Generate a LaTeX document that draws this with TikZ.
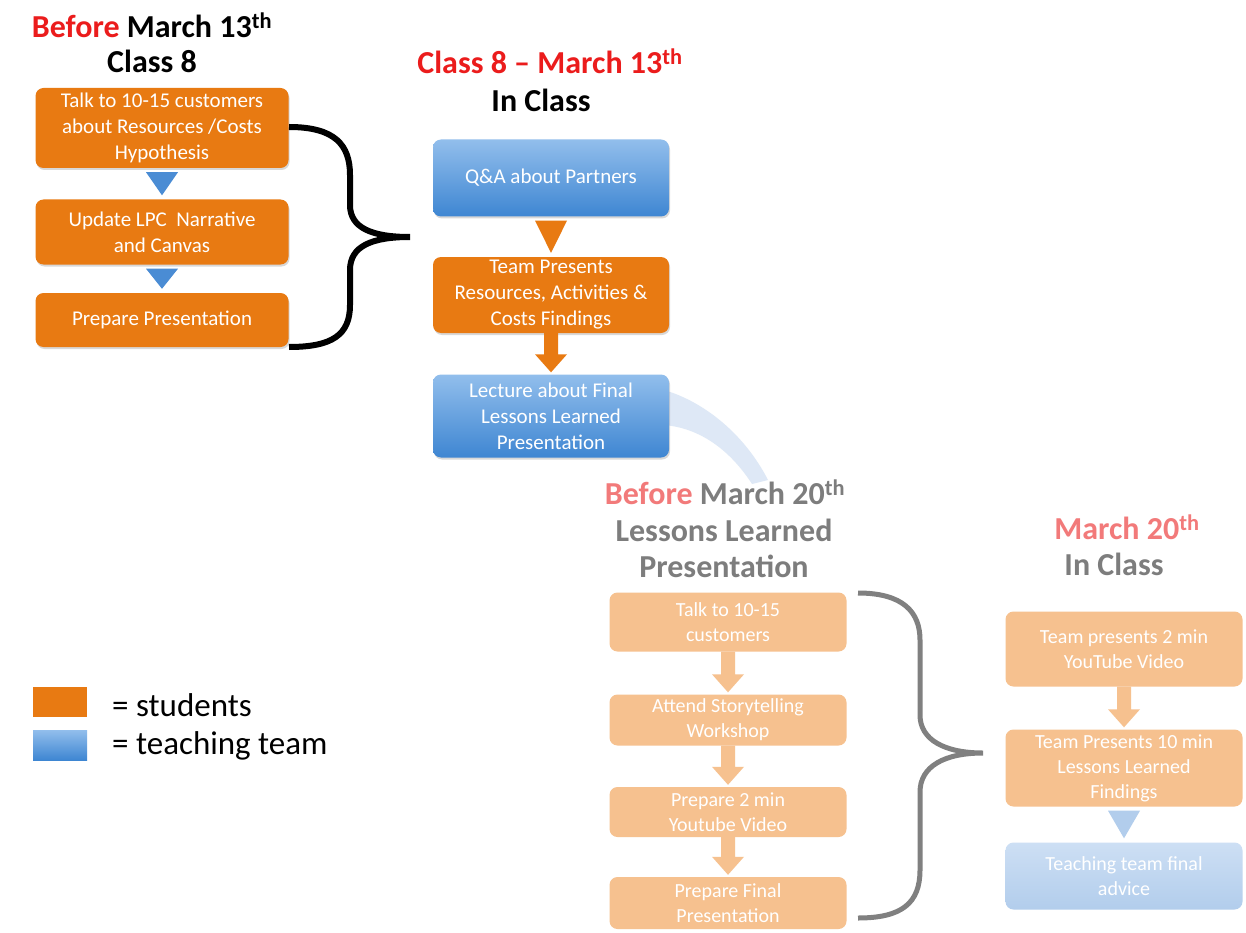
\documentclass[tikz,border=0pt]{standalone}
\usepackage{fontspec}
\setmainfont{Carlito}
\usetikzlibrary{calc,shadows}
\definecolor{org}{RGB}{232,122,18}
\definecolor{bluetop}{RGB}{146,190,236}
\definecolor{bluebot}{RGB}{62,134,210}
\definecolor{blutri}{RGB}{74,140,212}
\definecolor{forg}{RGB}{246,193,143}
\definecolor{fbluetop}{RGB}{205,223,244}
\definecolor{fbluebot}{RGB}{178,205,236}
\definecolor{hred}{RGB}{235,28,28}
\definecolor{pink}{RGB}{242,122,122}
\definecolor{fgray}{RGB}{125,125,125}
\definecolor{bgray}{RGB}{128,128,128}
\definecolor{swoosh}{RGB}{200,218,240}
\tikzset{
  box/.style={rounded corners=8pt, minimum width=#1, align=center,
    text=white, font=\fontsize{21}{26}\selectfont, inner sep=0pt},
  stud/.style={box=#1, fill=org, drop shadow={opacity=0.3,shadow xshift=1pt,shadow yshift=-2pt}},
  teach/.style={box=#1, top color=bluetop, bottom color=bluebot, drop shadow={opacity=0.3,shadow xshift=1pt,shadow yshift=-2pt}},
  fstud/.style={box=#1, fill=forg, font=\fontsize{20}{25}\selectfont},
  fteach/.style={box=#1, top color=fbluetop, bottom color=fbluebot, font=\fontsize{20}{25}\selectfont},
  head/.style={font=\fontsize{32}{36}\selectfont\bfseries, inner sep=0pt},
  legtext/.style={font=\fontsize{33}{36}\selectfont, anchor=west, inner sep=0pt},
}
\newcommand\tri[3]{\fill[#1] ($(#2.south)+(-16,4)$) -- ($(#2.south)+(16,4)$) -- ($(#3.north)+(0,-4)$) -- cycle;}
\newcommand\blockarr[3]{\fill[#1] ($(#2.south)+(-7,0)$) -- ($(#2.south)+(7,0)$) -- ($(#3.north)+(7,-20)$) -- ($(#3.north)+(16,-20)$) -- ($(#3.north)+(0,-2)$) -- ($(#3.north)+(-16,-20)$) -- ($(#3.north)+(-7,-20)$) -- cycle;}
\begin{document}
\begin{tikzpicture}[x=1pt,y=-1pt]
\useasboundingbox[fill=white] (0,0) rectangle (1246,933);

% faint swoosh
\fill[swoosh, opacity=0.6] (664,390) .. controls (705,402) and (745,435) .. (768,480) -- (752,484) .. controls (730,450) and (700,428) .. (664,425) -- cycle;

% headings
\node[head] (h1a) at (152,25) {\textcolor{hred}{Before} March 13\textsuperscript{th}};
\node[head] (h1b) at (152,61) {Class 8};
\node[head, text=hred] (h2a) at (550,61) {Class 8 -- March 13\textsuperscript{th}};
\node[head] (h2b) at (541,100) {In Class};
\node[head, text=fgray] (h3a) at (725,492) {\textcolor{pink}{Before} March 20\textsuperscript{th}};
\node[head, text=fgray] (h3b) at (724,530) {Lessons Learned};
\node[head, text=fgray] (h3c) at (724,566) {Presentation};
\node[head, text=pink] (h4a) at (1127,527) {March 20\textsuperscript{th}};
\node[head, text=fgray] (h4b) at (1114,564) {In Class};

% left column
\node[stud=253pt, minimum height=80pt] (L1) at (162,128) {Talk to 10-15 customers\\about Resources /Costs\\Hypothesis};
\node[stud=253pt, minimum height=65pt] (L2) at (162,232) {Update LPC\ \ Narrative\\and Canvas};
\node[stud=253pt, minimum height=54pt] (L3) at (162,320) {Prepare Presentation};
\tri{blutri}{L1}{L2}
\tri{blutri}{L2}{L3}

% middle column
\node[teach=236pt, minimum height=77pt] (M1) at (551,178) {Q\&A about Partners};
\node[stud=236pt, minimum height=76pt] (M2) at (551,295) {Team Presents\\Resources, Activities \&\\Costs Findings};
\node[teach=236pt, minimum height=83pt] (M3) at (551,416) {Lecture about Final\\Lessons Learned\\Presentation};
\tri{org}{M1}{M2}
\blockarr{org}{M2}{M3}

% faded column
\node[fstud=237pt, minimum height=59pt] (F1) at (728,622) {Talk to 10-15\\customers};
\node[fstud=237pt, minimum height=51pt] (F2) at (728,720) {Attend Storytelling\\Workshop};
\node[fstud=237pt, minimum height=50pt] (F3) at (728,812) {Prepare 2 min\\Youtube Video};
\node[fstud=237pt, minimum height=52pt] (F4) at (728,903) {Prepare Final\\Presentation};
\blockarr{forg}{F1}{F2}
\blockarr{forg}{F2}{F3}
\blockarr{forg}{F3}{F4}

% right column
\node[fstud=237pt, minimum height=75pt] (R1) at (1124,649) {Team presents 2 min\\YouTube Video};
\node[fstud=237pt, minimum height=77pt] (R2) at (1124,768) {Team Presents 10 min\\Lessons Learned\\Findings};
\node[fteach=237pt, minimum height=67pt] (R3) at (1124,876) {Teaching team final\\advice};
\blockarr{forg}{R1}{R2}
\tri{fbluebot}{R2}{R3}

% braces
\draw[line width=6pt] (289,127) .. controls (335,127) and (350,145) .. (350,175) -- (350,205)
  .. controls (350,228) and (372,237) .. (410,237)
  (410,237) .. controls (372,237) and (350,246) .. (350,270) -- (350,305)
  .. controls (350,335) and (332,347) .. (289,347);
\draw[line width=5pt, bgray] (858,593) .. controls (903,593) and (920,612) .. (920,640) -- (920,715)
  .. controls (920,740) and (945,753) .. (983,753)
  (983,753) .. controls (945,753) and (920,766) .. (920,792) -- (920,870)
  .. controls (920,903) and (902,918) .. (858,918);

% legend
\node[fill=org, minimum width=54pt, minimum height=30pt, inner sep=0pt] (lo) at (60,702) {};
\node[top color=bluetop, bottom color=bluebot, minimum width=54pt, minimum height=30pt, inner sep=0pt] (lb) at (60,745) {};
\node[legtext] (lot) at (112,705) {= students};
\node[legtext] (lbt) at (112,746) {= teaching team};
\end{tikzpicture}
\end{document}
